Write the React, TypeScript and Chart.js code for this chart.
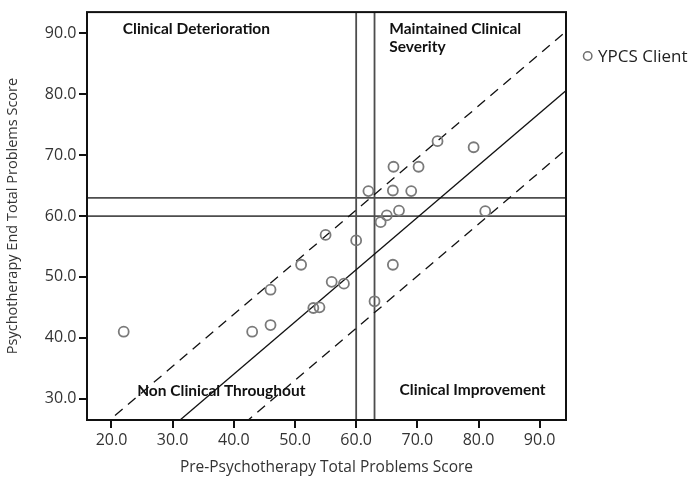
import React, { useEffect, useRef } from "react";
import { Chart, registerables } from "chart.js";

Chart.register(...registerables);

// ---- data ----
const preScores = [22, 43, 46, 46, 51, 55, 60, 56, 58, 53, 54, 63, 66, 64, 65, 67, 62, 66, 69, 66.1, 70.2, 73.3, 79.2, 81.1];
const endScores = [41, 41, 42.1, 47.9, 52, 56.9, 56, 49.2, 48.9, 44.9, 45, 46, 52, 59, 60.1, 60.9, 64.1, 64.2, 64.1, 68.1, 68.1, 72.3, 71.3, 60.8];
const seriesLabel = "YPCS Client";

const xTicks = [20, 30, 40, 50, 60, 70, 80, 90];
const yTicks = [30, 40, 50, 60, 70, 80, 90];
const xRange = [16, 94.3];
const yRange = [26.5, 93.5];

const cutoffs = [60, 63];
const lineX = [10, 100];
const fitY = [8.3, 85.5];
const upperY = [18.2, 95.2];
const lowerY = [-1.2, 75.8];

const xTitle = "Pre-Psychotherapy Total Problems Score";
const yTitle = "Psychotherapy End Total Problems Score";

const regionText = [
  ["Clinical Deterioration"],
  ["Maintained Clinical", "Severity"],
  ["Non Clinical Throughout"],
  ["Clinical Improvement"],
];
const regionX = [21.85, 65.4, 24.2, 67.1];
const regionY = [90.65, 90.8, 31.3, 31.4];

const FONT = "'Open Sans', sans-serif";

export default function App() {
  const ref = useRef<HTMLCanvasElement | null>(null);

  useEffect(() => {
    const canvas = ref.current;
    if (!canvas) return;

    const pts = preScores.map((x, i) => ({ x, y: endScores[i] }));
    const seg = (ys: number[]) => lineX.map((x, i) => ({ x, y: ys[i] }));

    const refColor = "#4d4d4d";
    const datasets: any[] = [];
    cutoffs.forEach((c) => {
      datasets.push({
        type: "line",
        data: [{ x: c, y: 0 }, { x: c, y: 100 }],
        borderColor: refColor,
        borderWidth: 1.8,
        pointRadius: 0,
        showLine: true,
        order: 5,
      });
      datasets.push({
        type: "line",
        data: [{ x: 0, y: c }, { x: 100, y: c }],
        borderColor: refColor,
        borderWidth: 1.8,
        pointRadius: 0,
        showLine: true,
        order: 5,
      });
    });
    datasets.push({
      type: "line",
      data: seg(fitY),
      borderColor: "#111",
      borderWidth: 1.3,
      pointRadius: 0,
      showLine: true,
      order: 4,
    });
    [upperY, lowerY].forEach((ys) =>
      datasets.push({
        type: "line",
        data: seg(ys),
        borderColor: "#111",
        borderWidth: 1.3,
        borderDash: [10, 7],
        pointRadius: 0,
        showLine: true,
        order: 4,
      })
    );
    datasets.push({
      type: "scatter",
      label: seriesLabel,
      data: pts,
      pointRadius: 5,
      pointBorderWidth: 1.8,
      pointBorderColor: "#7a7a7a",
      pointBackgroundColor: "rgba(0,0,0,0)",
      order: 1,
    });

    const overlay = {
      id: "overlay",
      afterDraw(chart: any) {
        const { ctx, chartArea: a, scales } = chart;
        ctx.save();
        ctx.strokeStyle = "#111";
        ctx.lineWidth = 2;
        ctx.strokeRect(a.left, a.top, a.right - a.left, a.bottom - a.top);

        ctx.fillStyle = "#111";
        ctx.font = `bold 15.5px Lato, sans-serif`;
        ctx.textAlign = "left";
        ctx.textBaseline = "middle";
        regionText.forEach((lines, i) => {
          const px = scales.x.getPixelForValue(regionX[i]);
          const py = scales.y.getPixelForValue(regionY[i]);
          lines.forEach((t, j) => ctx.fillText(t, px, py + j * 18.3));
        });

        // legend
        ctx.beginPath();
        ctx.arc(587.7, 56, 4.2, 0, Math.PI * 2);
        ctx.strokeStyle = "#6f6f6f";
        ctx.lineWidth = 1.5;
        ctx.stroke();
        ctx.fillStyle = "#222";
        ctx.font = `17px ${FONT}`;
        ctx.fillText(seriesLabel, 598, 57);
        ctx.restore();
      },
    };

    const tickGrid = {
      display: true,
      drawOnChartArea: false,
      drawTicks: true,
      tickLength: 8,
      color: "#111",
      lineWidth: 2,
    };

    const chart = new Chart(canvas, {
      type: "scatter",
      data: { datasets },
      plugins: [overlay],
      options: {
        animation: false,
        responsive: false,
        maintainAspectRatio: false,
        layout: { padding: { top: 5, right: 129, left: 0, bottom: 0 } },
        plugins: {
          legend: { display: false },
          tooltip: { enabled: false },
        },
        scales: {
          x: {
            type: "linear",
            min: xRange[0],
            max: xRange[1],
            grid: tickGrid,
            border: { display: false },
            afterBuildTicks: (s: any) => {
              s.ticks = xTicks.map((v) => ({ value: v }));
            },
            afterFit: (s: any) => {
              s.height = 64;
            },
            ticks: {
              autoSkip: false,
              maxRotation: 0,
              padding: 3,
              color: "#333",
              font: { family: FONT, size: 16 },
              callback: (v: any) => Number(v).toFixed(1),
            },
            title: {
              display: true,
              text: xTitle,
              color: "#333",
              font: { family: FONT, size: 15.5 },
              padding: { top: 0, bottom: 7 },
            },
          },
          y: {
            type: "linear",
            min: yRange[0],
            max: yRange[1],
            grid: tickGrid,
            border: { display: false },
            afterBuildTicks: (s: any) => {
              s.ticks = yTicks.map((v) => ({ value: v }));
            },
            afterFit: (s: any) => {
              s.width = 87;
            },
            ticks: {
              autoSkip: false,
              padding: 2.5,
              color: "#333",
              font: { family: FONT, size: 16 },
              callback: (v: any) => Number(v).toFixed(1),
            },
            title: {
              display: true,
              text: yTitle,
              color: "#333",
              font: { family: FONT, size: 14.5 },
              padding: { top: 4, bottom: 0 },
            },
          },
        },
      },
    } as any);

    return () => chart.destroy();
  }, []);

  return (
    <canvas
      ref={ref}
      width={695}
      height={484}
      style={{ position: "absolute", left: 0, top: 0, width: 695, height: 484 }}
    />
  );
}
